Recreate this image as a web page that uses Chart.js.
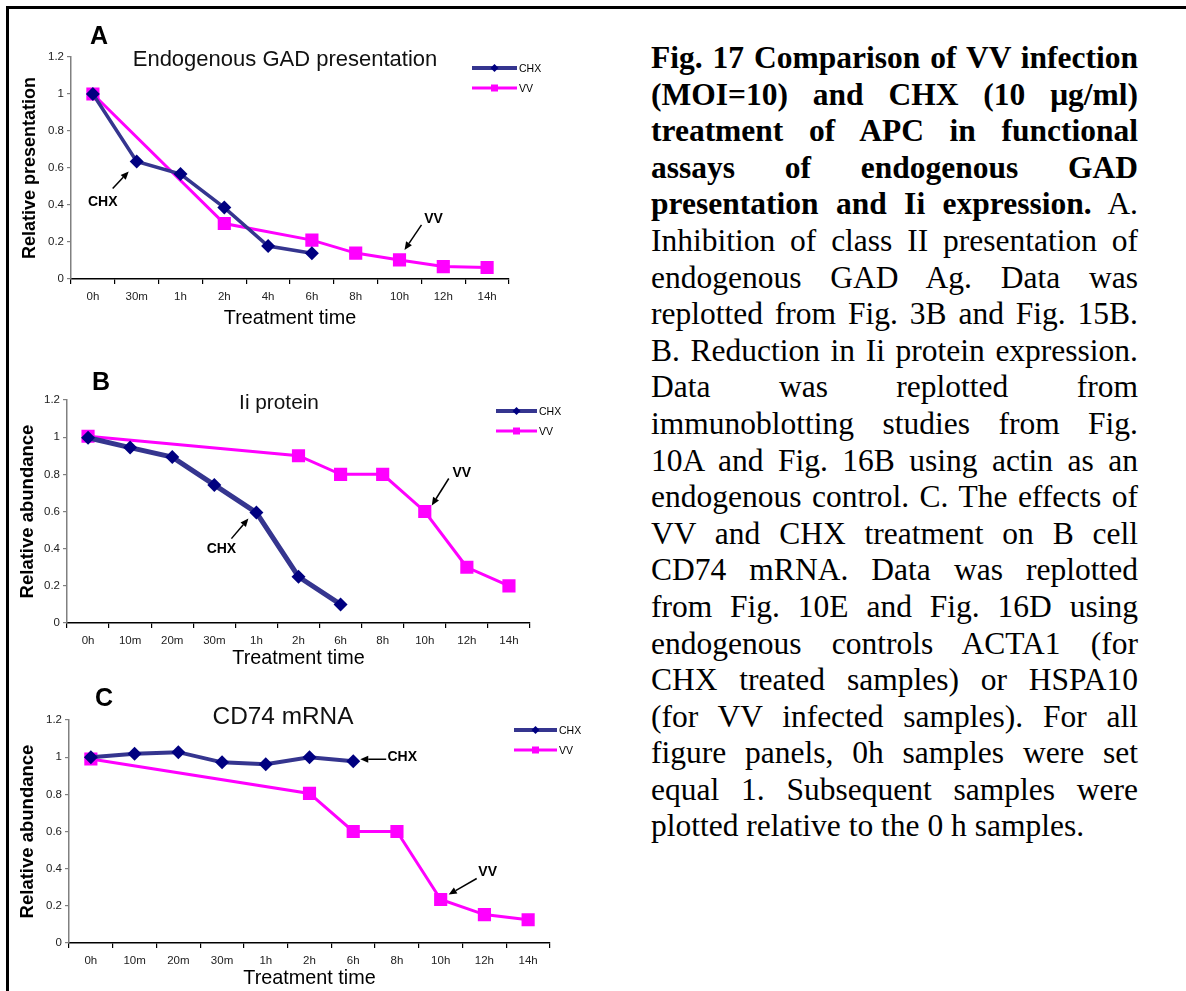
<!DOCTYPE html>
<html>
<head>
<meta charset="utf-8">
<script src="https://cdn.jsdelivr.net/npm/chart.js@4.4.1/dist/chart.umd.min.js"></script>
<style>
  html, body { margin: 0; padding: 0; background: #fff; }
  #page { position: relative; width: 1186px; height: 991px; overflow: hidden; background: #fff; }
  #frame { position: absolute; left: 6px; top: 6px; width: 1200px; height: 1000px;
           border-top: 3px solid #000; border-left: 3px solid #000; box-sizing: border-box; }
  canvas { position: absolute; left: 0; }
  #caption { position: absolute; left: 651px; top: 40px; width: 487px;
             font-family: "Liberation Serif", "Times New Roman", serif; font-size: 31.5px;
             line-height: 36.6px; color: #000; }
  #caption div { white-space: nowrap; text-align: justify; text-align-last: justify; height: 36.6px; }
  #caption div.last { text-align-last: left; }
</style>
</head>
<body>
<div id="page">
  <div id="frame"></div>
  <canvas id="cA" width="600" height="315" style="top:20px"></canvas>
  <canvas id="cB" width="600" height="315" style="top:360px"></canvas>
  <canvas id="cC" width="600" height="315" style="top:680px"></canvas>
  <div id="caption">
    <div><b>Fig. 17 Comparison of VV infection</b></div>
    <div><b>(MOI=10) and CHX (10 μg/ml)</b></div>
    <div><b>treatment of APC in functional</b></div>
    <div><b>assays of endogenous GAD</b></div>
    <div><b>presentation and Ii expression.</b> A.</div>
    <div>Inhibition of class II presentation of</div>
    <div>endogenous GAD Ag. Data was</div>
    <div>replotted from Fig. 3B and Fig. 15B.</div>
    <div>B. Reduction in Ii protein expression.</div>
    <div>Data was replotted from</div>
    <div>immunoblotting studies from Fig.</div>
    <div>10A and Fig. 16B using actin as an</div>
    <div>endogenous control. C. The effects of</div>
    <div>VV and CHX treatment on B cell</div>
    <div>CD74 mRNA. Data was replotted</div>
    <div>from Fig. 10E and Fig. 16D using</div>
    <div>endogenous controls ACTA1 (for</div>
    <div>CHX treated samples) or HSPA10</div>
    <div>(for VV infected samples). For all</div>
    <div>figure panels, 0h samples were set</div>
    <div>equal 1. Subsequent samples were</div>
    <div class="last">plotted relative to the 0 h samples.</div>
  </div>
</div>
<script>
// ---------------- DATA ----------------
const yTickValues = [0, 0.2, 0.4, 0.6, 0.8, 1, 1.2];
const seriesNames = ['CHX', 'VV'];

// Panel A: Endogenous GAD presentation
const labelsA = ['0h', '30m', '1h', '2h', '4h', '6h', '8h', '10h', '12h', '14h'];
const chxA = [1.0, 0.635, 0.567, 0.386, 0.178, 0.139, null, null, null, null];
const vvA  = [1.0, null, null, 0.30, null, 0.21, 0.14, 0.103, 0.067, 0.062];

// Panel B: Ii protein
const labelsB = ['0h', '10m', '20m', '30m', '1h', '2h', '6h', '8h', '10h', '12h', '14h'];
const chxB = [0.997, 0.944, 0.893, 0.743, 0.594, 0.249, 0.10, null, null, null, null];
const vvB  = [1.005, null, null, null, null, 0.90, 0.80, 0.80, 0.60, 0.30, 0.20];

// Panel C: CD74 mRNA
const labelsC = ['0h', '10m', '20m', '30m', '1h', '2h', '6h', '8h', '10h', '12h', '14h'];
const chxC = [1.0, 1.018, 1.027, 0.972, 0.962, 1.0, 0.978, null, null, null, null];
const vvC  = [0.99, null, null, null, null, 0.805, 0.60, 0.60, 0.234, 0.153, 0.125];

// ---------------- STYLE ----------------
const CHX_LINE = '#35358f';
const CHX_MARK = '#000080';
const VV_COLOR = '#ff00ff';
const SANS = '"Liberation Sans", Arial, sans-serif';

function drawArrow(ctx, x1, y1, x2, y2) {
  const ang = Math.atan2(y2 - y1, x2 - x1);
  const hl = 8, hw = 3.5;
  const bx = x2 - hl * Math.cos(ang), by = y2 - hl * Math.sin(ang);
  ctx.beginPath();
  ctx.moveTo(x1, y1); ctx.lineTo(bx, by);
  ctx.lineWidth = 1.5; ctx.strokeStyle = '#000'; ctx.stroke();
  ctx.beginPath();
  ctx.moveTo(x2, y2);
  ctx.lineTo(bx + hw * Math.sin(ang), by - hw * Math.cos(ang));
  ctx.lineTo(bx - hw * Math.sin(ang), by + hw * Math.cos(ang));
  ctx.closePath(); ctx.fillStyle = '#000'; ctx.fill();
}

function drawMarker(ctx, style, x, y, r, color) {
  ctx.beginPath();
  if (style === 'rectRot') {
    ctx.moveTo(x, y - r); ctx.lineTo(x + r, y); ctx.lineTo(x, y + r); ctx.lineTo(x - r, y);
  } else {
    ctx.rect(x - r, y - r, 2 * r, 2 * r);
  }
  ctx.closePath(); ctx.fillStyle = color; ctx.fill();
}

const decor = {
  id: 'decor',
  afterDraw(chart, args, o) {
    const ctx = chart.ctx, ca = chart.chartArea;
    ctx.save();
    ctx.fillStyle = '#000';
    ctx.textAlign = 'center'; ctx.textBaseline = 'middle';
    ctx.font = 'bold 25px ' + SANS;
    ctx.fillText(o.letter, o.letterX, o.letterY);
    ctx.font = o.titleSize + 'px ' + SANS;
    ctx.fillStyle = '#111';
    ctx.fillText(o.title, o.titleX, o.titleY);
    // legend
    chart.data.datasets.forEach((ds, i) => {
      const y = ca.top + o.legY0 + i * 20;
      const x0 = ca.right + o.legX0, x1 = ca.right + o.legX1;
      ctx.beginPath(); ctx.moveTo(x0, y); ctx.lineTo(x1, y);
      ctx.lineWidth = i === 0 ? 4 : 3; ctx.strokeStyle = ds.borderColor; ctx.stroke();
      drawMarker(ctx, ds.pointStyle, (x0 + x1) / 2, y, i === 0 ? 4 : 3.5, ds.pointBackgroundColor);
      ctx.fillStyle = '#000'; ctx.textAlign = 'left';
      ctx.font = '10.5px ' + SANS;
      ctx.fillText(ds.label, x1 + 2, y + 1);
    });
    // annotations
    ctx.font = 'bold 14px ' + SANS;
    o.notes.forEach(n => {
      const ds = chart.data.datasets[n.ds];
      const idx = chart.data.labels.indexOf(n.at);
      const px = chart.scales.x.getPixelForValue(idx);
      const py = chart.scales.y.getPixelForValue(ds.data[idx]);
      drawArrow(ctx, px + n.tail[0], py + n.tail[1], px + n.tip[0], py + n.tip[1]);
      ctx.fillStyle = '#000'; ctx.textAlign = n.align || 'center';
      ctx.fillText(ds.label, px + n.text[0], py + n.text[1]);
    });
    ctx.restore();
  }
};

function makePanel(id, p) {
  new Chart(document.getElementById(id), {
    type: 'line',
    data: {
      labels: p.labels,
      datasets: [
        { label: seriesNames[0], data: p.chx, borderColor: CHX_LINE, borderWidth: p.chxWidth,
          pointStyle: 'rectRot', pointRadius: 7, pointBackgroundColor: CHX_MARK,
          pointBorderColor: CHX_MARK, pointBorderWidth: 0, spanGaps: true, tension: 0 },
        { label: seriesNames[1], data: p.vv, borderColor: VV_COLOR, borderWidth: 3,
          pointStyle: 'rect', pointRadius: 9.3, pointBackgroundColor: VV_COLOR,
          pointBorderColor: VV_COLOR, pointBorderWidth: 0, spanGaps: true, tension: 0 }
      ]
    },
    options: {
      responsive: false, animation: false, devicePixelRatio: 1,
      layout: { padding: { top: p.padTop, right: p.padRight, left: 0, bottom: 0 } },
      plugins: { legend: { display: false }, tooltip: { enabled: false }, decor: p.decor },
      scales: {
        x: {
          type: 'category', offset: true,
          grid: { offset: true, drawOnChartArea: false, tickLength: 5, color: '#000', lineWidth: 1.2 },
          border: { color: '#000', width: 1.5 },
          ticks: { font: { size: 11.5, family: SANS }, color: '#222', padding: 6, maxRotation: 0, autoSkip: false },
          title: { display: true, text: 'Treatment time', color: '#000',
                   font: { size: 19.8, family: SANS }, padding: { top: 0, bottom: 5 } },
          afterFit(s) { s.height = p.xHeight; }
        },
        y: {
          min: 0, max: 1.2,
          afterBuildTicks(s) { s.ticks = yTickValues.map(v => ({ value: v })); },
          ticks: { font: { size: 11.5, family: SANS }, color: '#222', padding: 3,
                   callback: v => String(Math.round(v * 10) / 10) },
          grid: { drawOnChartArea: false, tickLength: 4, color: '#808080', lineWidth: 1.2 },
          border: { color: '#808080', width: 1.5 },
          title: { display: true, text: p.yTitle, color: '#000',
                   font: { size: p.yTitleSize, weight: 'bold', family: SANS }, padding: { top: p.yTitlePad, bottom: 0 } },
          afterFit(s) { s.width = p.yWidth; }
        }
      }
    },
    plugins: [decor]
  });
}

makePanel('cA', {
  labels: labelsA, chx: chxA, vv: vvA, chxWidth: 3.5,
  padTop: 37, padRight: 91, xHeight: 56, yWidth: 71, yTitlePad: 19, yTitleSize: 18,
  yTitle: 'Relative presentation',
  decor: { letter: 'A', letterX: 99, letterY: 17, title: 'Endogenous GAD presentation',
           titleSize: 22, titleX: 285, titleY: 40, legX0: -37, legX1: 8, legY0: 11,
           notes: [ { ds: 0, at: '30m', tip: [-8, 10], tail: [-24, 27], text: [-34, 41] },
                    { ds: 1, at: '10h', tip: [5, -10], tail: [22, -35], text: [34, -41] } ] }
});

makePanel('cB', {
  labels: labelsB, chx: chxB, vv: vvB, chxWidth: 5,
  padTop: 40, padRight: 70, xHeight: 52, yWidth: 67, yTitlePad: 16.5, yTitleSize: 18.5,
  yTitle: 'Relative abundance',
  decor: { letter: 'B', letterX: 101, letterY: 23, title: 'Ii protein',
           titleSize: 20.8, titleX: 279, titleY: 43, legX0: -34, legX1: 7, legY0: 11,
           notes: [ { ds: 0, at: '1h', tip: [-8, 6], tail: [-25, 26], text: [-35, 37] },
                    { ds: 1, at: '10h', tip: [7, -6], tail: [24, -33], text: [37, -38] } ] }
});

makePanel('cC', {
  labels: labelsC, chx: chxC, vv: vvC, chxWidth: 4,
  padTop: 40, padRight: 50, xHeight: 52, yWidth: 69, yTitlePad: 16.5, yTitleSize: 18.5,
  yTitle: 'Relative abundance',
  decor: { letter: 'C', letterX: 104, letterY: 19, title: 'CD74 mRNA',
           titleSize: 24.4, titleX: 283, titleY: 37, legX0: -36, legX1: 7, legY0: 10,
           notes: [ { ds: 0, at: '6h', tip: [7, -2], tail: [33, -2], text: [49, -4] },
                    { ds: 1, at: '10h', tip: [8, -5], tail: [36, -21], text: [47, -27] } ] }
});
</script>
</body>
</html>
